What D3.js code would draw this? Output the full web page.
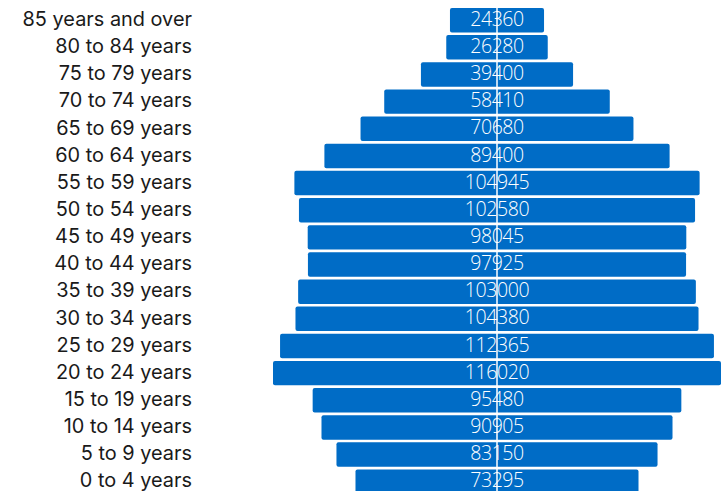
<!DOCTYPE html>
<html>
<head>
<meta charset="utf-8">
<script src="https://cdn.jsdelivr.net/npm/d3@7"></script>
<style>
  body { margin: 0; background: #fff; }
  svg { display: block; }
</style>
</head>
<body>
<div id="chart"></div>
<script>
// age groups, top to bottom
const ageGroups = [
  "85 years and over", "80 to 84 years", "75 to 79 years", "70 to 74 years",
  "65 to 69 years", "60 to 64 years", "55 to 59 years", "50 to 54 years",
  "45 to 49 years", "40 to 44 years", "35 to 39 years", "30 to 34 years",
  "25 to 29 years", "20 to 24 years", "15 to 19 years", "10 to 14 years",
  "5 to 9 years", "0 to 4 years"
];
const population = [
  24360, 26280, 39400, 58410, 70680, 89400, 104945, 102580, 98045,
  97925, 103000, 104380, 112365, 116020, 95480, 90905, 83150, 73295
];

const width = 727, height = 491;
const centerX = 497;

const svg = d3.select('#chart').append('svg')
    .attr('width', width).attr('height', height);

// band scale for rows
const y = d3.scaleBand()
    .domain(ageGroups)
    .range([6.6, 6.6 + 27.15 * ageGroups.length])
    .paddingInner(0.1)
    .paddingOuter(0.05);

// bars are centered, so the scale goes from -max/2 to max/2
const maxVal = d3.max(population);
const x = d3.scaleLinear()
    .domain([-maxVal / 2, maxVal / 2])
    .range([centerX - 224, centerX + 224]);

const rows = svg.append('g').selectAll('g')
    .data(ageGroups.map((g, i) => ({ group: g, value: population[i] })))
    .enter().append('g');

rows.append('rect')
    .attr('x', d => x(-d.value / 2))
    .attr('y', d => y(d.group))
    .attr('width', d => x(d.value / 2) - x(-d.value / 2))
    .attr('height', y.bandwidth())
    .attr('rx', 2)
    .attr('fill', '#006cc6');

// labels on the left
rows.append('text')
    .attr('x', 192)
    .attr('y', d => y(d.group) + y.bandwidth() / 2)
    .attr('dy', '0.29em')
    .attr('text-anchor', 'end')
    .attr('font-family', 'Inter, sans-serif')
    .attr('font-size', 19.9)
    .attr('fill', '#1a1a1a')
    .text(d => d.group);

// value labels in the bars
rows.append('text')
    .attr('x', centerX)
    .attr('y', d => y(d.group) + y.bandwidth() / 2)
    .attr('dy', '0.29em')
    .attr('text-anchor', 'middle')
    .attr('font-family', '"Open Sans", sans-serif')
    .attr('font-weight', 300)
    .attr('font-size', 19.5)
    .attr('letter-spacing', -0.4)
    .attr('fill', '#fff')
    .text(d => d.value);

// white centre line
svg.append('line')
    .attr('x1', centerX).attr('x2', centerX)
    .attr('y1', y(ageGroups[0]))
    .attr('y2', height)
    .attr('stroke', '#fff')
    .attr('stroke-width', 1.5);
</script>
</body>
</html>
